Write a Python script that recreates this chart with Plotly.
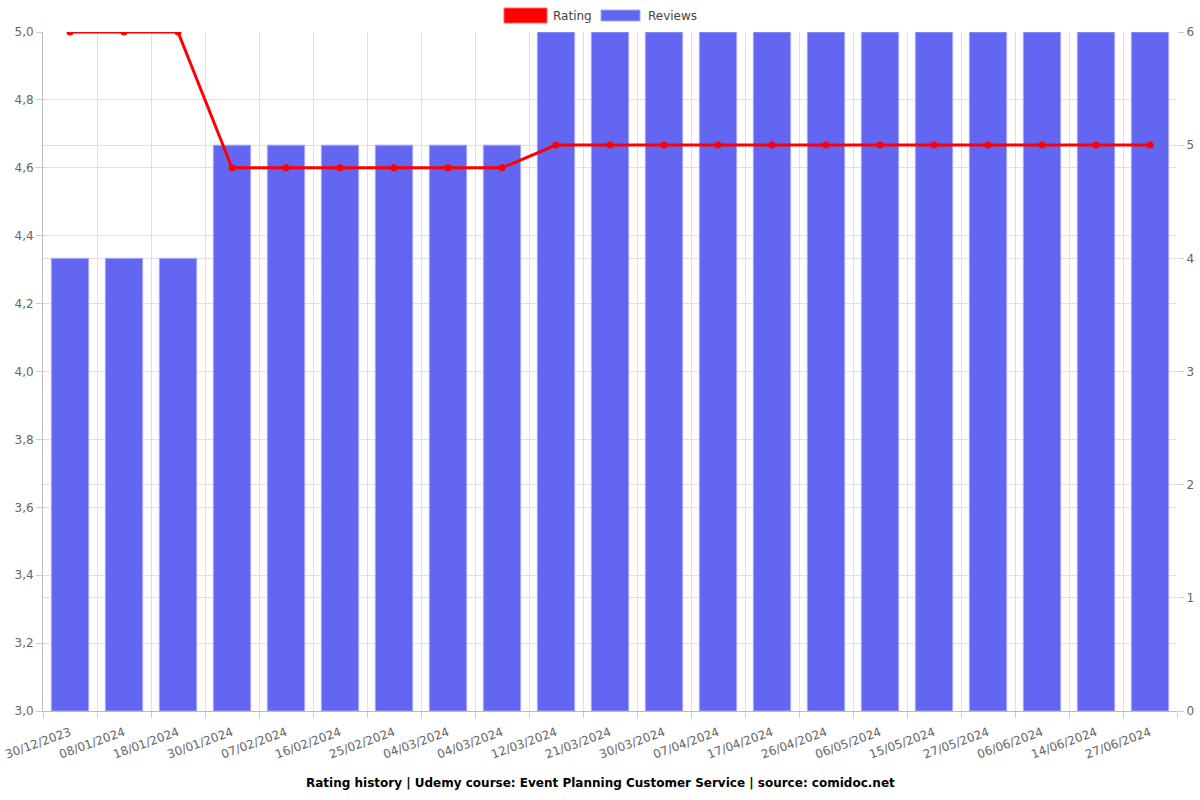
import plotly.graph_objects as go

dates = ["30/12/2023", "08/01/2024", "18/01/2024", "30/01/2024", "07/02/2024",
         "16/02/2024", "25/02/2024", "04/03/2024", "04/03/2024", "12/03/2024",
         "21/03/2024", "30/03/2024", "07/04/2024", "17/04/2024", "26/04/2024",
         "06/05/2024", "15/05/2024", "27/05/2024", "06/06/2024", "14/06/2024",
         "27/06/2024"]
rating = [5.0, 5.0, 5.0, 4.6, 4.6, 4.6, 4.6, 4.6, 4.6, 4.667,
          4.667, 4.667, 4.667, 4.667, 4.667, 4.667, 4.667, 4.667, 4.667, 4.667, 4.667]
reviews = [4, 4, 4, 5, 5, 5, 5, 5, 5, 6, 6, 6, 6, 6, 6, 6, 6, 6, 6, 6, 6]
legend_names = ["Rating", "Reviews"]
legend_colors = ["#ff0000", "#6366f1"]

x = list(range(len(dates)))
bounds = [i - 0.5 for i in range(len(dates) + 1)]
font = "DejaVu Sans"
grey = "#666666"
grid = "#e0e0e0"

W, H = 1200, 800
L, R, T, B = 43, 23, 32, 89
pw, ph = W - L - R, H - T - B


def px(v):
    return (v - L) / pw


def py(v):
    return (H - B - v) / ph


fig = go.Figure()
fig.add_trace(go.Bar(x=x, y=reviews, name="Reviews", yaxis="y",
                     marker=dict(color="#6366f1", line=dict(color="#a5a7f8", width=1)),
                     width=0.69, hoverinfo="y"))
fig.add_trace(go.Scatter(x=x, y=rating, name="Rating", yaxis="y2", mode="lines+markers",
                         line=dict(color="#ff0000", width=3), marker=dict(color="#ff0000", size=7)))

# manual legend
shapes = [
    dict(type="rect", xref="paper", yref="paper", x0=px(504), x1=px(547), y0=py(23), y1=py(8),
         fillcolor=legend_colors[0], line=dict(color="#ff6666", width=1)),
    dict(type="rect", xref="paper", yref="paper", x0=px(601), x1=px(640), y0=py(21), y1=py(10),
         fillcolor=legend_colors[1], line=dict(color="#a5a7f8", width=1)),
]
annotations = [
    dict(text=legend_names[0], xref="paper", yref="paper", x=px(551), y=py(16), xanchor="left",
         yanchor="middle", showarrow=False, font=dict(family=font, size=12, color="#444")),
    dict(text=legend_names[1], xref="paper", yref="paper", x=px(646), y=py(16), xanchor="left",
         yanchor="middle", showarrow=False, font=dict(family=font, size=12, color="#444")),
    dict(text="<b>Rating history | Udemy course: Event Planning Customer Service | source: comidoc.net</b>",
         x=px(600), xref="paper", y=py(783), yref="paper",
         yanchor="middle", showarrow=False,
         font=dict(family=font, size=12, color="black")),
]

fig.update_layout(
    width=W, height=H,
    margin=dict(l=L, r=R, t=T, b=B),
    paper_bgcolor="white", plot_bgcolor="white",
    separators=",.",
    barmode="overlay",
    showlegend=False,
    font=dict(family=font, size=12, color=grey),
    xaxis=dict(tickmode="array", tickvals=x, ticktext=dates, tickangle=-20,
               range=[-0.5, len(dates) - 0.5], automargin=False, ticklabeloverflow="allow",
               ticklabelstandoff=9,
               showgrid=False, ticks="", showline=True, linecolor="#bbbbbb",
               minor=dict(tickmode="array", tickvals=bounds, showgrid=True, gridcolor=grid,
                          ticks="outside", ticklen=6, tickcolor="#cccccc"),
               tickfont=dict(size=12, color=grey)),
    yaxis=dict(range=[0, 6], dtick=1, side="right", showgrid=True, gridcolor=grid,
               ticks="outside", ticklen=6, tickcolor="#cccccc", zeroline=False, automargin=False,
               tickfont=dict(size=12, color=grey)),
    yaxis2=dict(range=[3, 5], dtick=0.2, tickformat=".1f", side="left", overlaying="y",
                showgrid=True, gridcolor=grid, ticks="outside", ticklen=6, tickcolor="#cccccc",
                showline=True, linecolor="#bbbbbb", zeroline=False, automargin=False,
                tickfont=dict(size=12, color=grey)),
    shapes=shapes,
    annotations=annotations,
)

fig.write_html("out.html", config={"displayModeBar": False},
               post_script="document.body.style.margin='0';")
